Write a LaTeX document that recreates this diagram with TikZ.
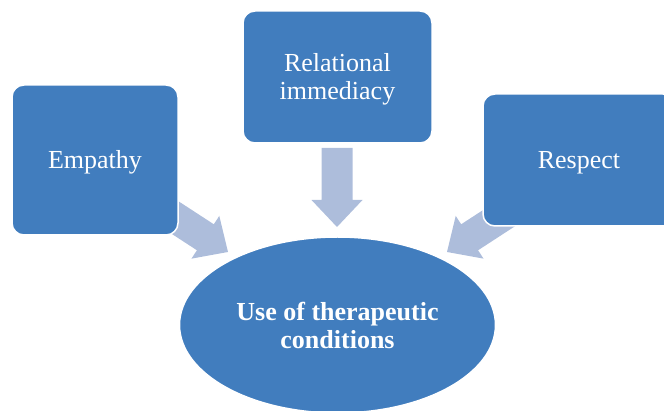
\documentclass[tikz,border=0pt]{standalone}
\usepackage{fontspec}
\setmainfont{Liberation Serif}
\usetikzlibrary{calc,shapes.geometric}
\definecolor{boxblue}{RGB}{65,125,190}
\definecolor{arrowblue}{RGB}{173,189,219}
\tikzset{
  box/.style={draw=white, line width=1.5pt, fill=boxblue, rounded corners=12pt,
    text=white, align=center, font=\fontsize{26}{28}\selectfont, inner sep=0pt},
  oneline/.style={text height=23pt, text depth=6pt},
  twoline/.style={text height=52pt, text depth=6pt},
  hub/.style={ellipse, draw=white, line width=1.5pt, fill=boxblue, text=white,
    align=center, font=\fontsize{26}{28}\selectfont\bfseries, inner sep=0pt},
  arrowfill/.style={fill=arrowblue},
}
% block arrow from #1 (back) to #2 (tip)
\newcommand\blockarr[2]{%
  \path ($(#2)!27pt!(#1)$) coordinate (hb);
  \fill[arrowfill] ($(#1)!15.5pt!-90:(#2)$) -- ($(hb)!15.5pt!-90:(#2)$)
    -- ($(hb)!25.5pt!-90:(#2)$) -- (#2) -- ($(hb)!25.5pt!90:(#2)$)
    -- ($(hb)!15.5pt!90:(#2)$) -- ($(#1)!15.5pt!90:(#2)$) -- cycle;
}
\begin{document}
\begin{tikzpicture}[x=1pt, y=-1pt]
\useasboundingbox (0,0) rectangle (664,411);
% anchor points of the three block arrows
\coordinate (lback) at (165,211);
\coordinate (ltip) at (228,252);
\coordinate (mback) at (337,148);
\coordinate (mtip) at (337,227);
\coordinate (rback) at (510,211);
\coordinate (rtip) at (447,252);
\blockarr{lback}{ltip}
\blockarr{mback}{mtip}
\blockarr{rback}{rtip}
% source boxes
\node[box, oneline, minimum width=166pt, minimum height=150pt] (emp) at (95,160) {Empathy};
\node[box, twoline, minimum width=189pt, minimum height=132pt] (rel) at (337.5,77) {Relational\\immediacy};
\node[box, oneline, minimum width=192pt, minimum height=132pt] (res) at (579,160) {Respect};
% central ellipse
\node[hub, minimum width=316pt, minimum height=176pt] (use) at (337.5,325) {Use of therapeutic\\conditions};
\end{tikzpicture}
\end{document}
